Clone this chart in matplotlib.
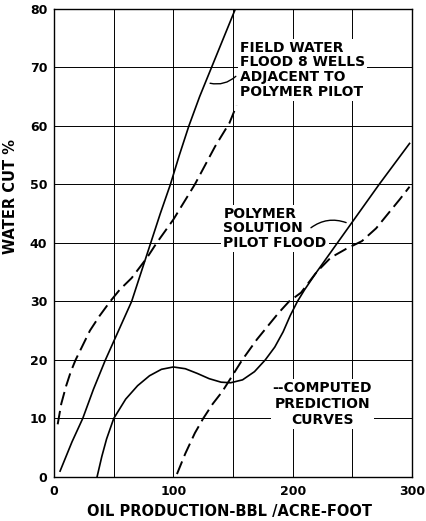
import numpy as np
import matplotlib
matplotlib.use("Agg")
import matplotlib.pyplot as plt

plt.rcParams['font.family'] = ['DejaVu Sans']
plt.rcParams['font.weight'] = 'bold'
plt.rcParams['axes.labelweight'] = 'bold'

# field water flood, 8 wells next to the pilot (observed)
field_x = [5, 15, 24, 33, 43, 54, 65, 73, 81, 89, 97.5, 105, 113, 122, 132, 142, 152]
field_y = [1, 6, 10, 15, 20, 25, 30, 35, 40, 45, 50, 55, 60, 65, 70, 75, 80]

# field water flood, computed prediction
field_pred_x = [3, 6, 10, 14, 18, 24, 30, 38, 47, 55, 65, 78, 86, 100, 118, 135, 147, 153]
field_pred_y = [9, 12.5, 15.5, 18, 20, 22.5, 25, 27.5, 30, 32, 34, 37.5, 40, 44, 50, 56.5, 60.5, 63.5]

# polymer solution pilot flood (observed)
poly_x = [36, 40, 44, 50, 60, 70, 80, 90, 100, 110, 120, 130, 140, 148, 158, 168, 177,
          185, 192, 198, 204, 210, 220, 237.5, 255, 272.5, 298]
poly_y = [0, 3.5, 6.5, 10, 13.3, 15.6, 17.3, 18.4, 18.8, 18.5, 17.7, 16.8, 16.2, 16.1,
          16.6, 18, 20, 22.2, 24.8, 27.6, 30, 32, 35, 40, 45, 50, 57]

# polymer pilot, computed prediction
poly_pred_x = [103, 110, 118, 125, 133, 141, 150, 157.7, 170, 180, 188, 197, 207, 220,
               232, 245, 258, 270, 280, 290, 298]
poly_pred_y = [0.5, 4, 7.5, 10, 12.5, 14.6, 17.5, 20, 23.5, 26, 28, 30, 31.5, 35,
               37.5, 39, 40.3, 42.5, 45, 47.5, 49.6]

x_ticks = [0, 100, 200, 300]
y_ticks = [0, 10, 20, 30, 40, 50, 60, 70, 80]

fig = plt.figure(figsize=(4.26, 5.21), dpi=100)
ax = fig.add_axes([0.127, 0.0845, 0.84, 0.8985])

ax.set_xlim(0, 300)
ax.set_ylim(0, 80)
ax.set_xticks(x_ticks)
ax.set_yticks(y_ticks)
ax.set_xticks(np.arange(0, 301, 50), minor=True)
ax.grid(True, which='both', color='black', linewidth=0.7)
ax.tick_params(which='both', length=0, labelsize=9)
ax.tick_params(axis='x', pad=6)
ax.tick_params(axis='y', pad=5)
for lab in ax.get_xticklabels() + ax.get_yticklabels():
    lab.set_fontweight('bold')
for s in ax.spines.values():
    s.set_linewidth(1.0)

dash = (0, (7, 3))
ax.plot(field_x, field_y, color='black', lw=1.2, zorder=3)
ax.plot(field_pred_x, field_pred_y, color='black', lw=1.4, ls=dash, zorder=3)
ax.plot(poly_x, poly_y, color='black', lw=1.2, zorder=3)
ax.plot(poly_pred_x, poly_pred_y, color='black', lw=1.4, ls=dash, zorder=3)

box = dict(facecolor='white', edgecolor='none', pad=1.5)
ax.text(156, 69.6, "FIELD WATER\nFLOOD 8 WELLS\nADJACENT TO\nPOLYMER PILOT",
        fontsize=10, ha='left', va='center', linespacing=1.05, bbox=box, zorder=4)
ax.text(142, 42.5, "POLYMER\nSOLUTION\nPILOT FLOOD",
        fontsize=10, ha='left', va='center', linespacing=1.05, bbox=box, zorder=4)
ax.text(225, 12.5, "--COMPUTED\nPREDICTION\nCURVES",
        fontsize=10, ha='center', va='center', linespacing=1.2, bbox=box, zorder=4)

# leader lines
ax.annotate("", xy=(128.5, 67.4), xytext=(154, 68.8),
            arrowprops=dict(arrowstyle='-', lw=1.0, connectionstyle='arc3,rad=-0.3'), zorder=5)
ax.annotate("", xy=(247, 43.3), xytext=(213.5, 42.3),
            arrowprops=dict(arrowstyle='-', lw=1.0, connectionstyle='arc3,rad=-0.3'), zorder=5)

ax.set_xlabel("OIL PRODUCTION-BBL /ACRE-FOOT", fontsize=10.5)
ax.set_ylabel("WATER CUT %", fontsize=10.5)
ax.xaxis.set_label_coords(0.49, -0.058)
ax.yaxis.set_label_coords(-0.10, 0.6)

fig.savefig("out.png", dpi=100)
